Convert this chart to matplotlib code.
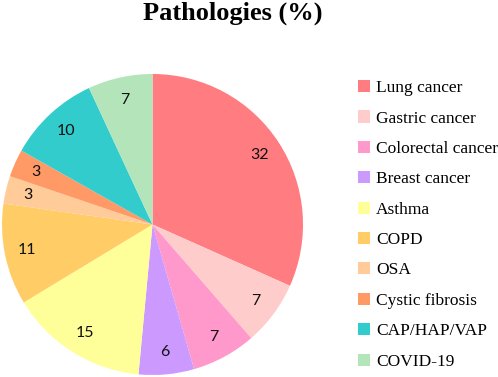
import matplotlib
matplotlib.use("Agg")
import matplotlib.pyplot as plt
from matplotlib.patches import Patch

# data
categories = ['Lung cancer', 'Gastric cancer', 'Colorectal cancer', 'Breast cancer',
              'Asthma', 'COPD', 'OSA', 'Cystic fibrosis', 'CAP/HAP/VAP', 'COVID-19']
values = [32, 7, 7, 6, 15, 11, 3, 3, 10, 7]
colors = ['#FF7C80', '#FFCCCC', '#FF99CC', '#CC99FF', '#FFFF99',
          '#FFCC66', '#FFCC99', '#FF9966', '#33CCCC', '#B4E5BA']

W, H = 498, 377
fig = plt.figure(figsize=(W / 100, H / 100), dpi=100)

# pie area (pixels from the reference): x 2..303, y 74..375 from top
ax = fig.add_axes([2 / W, 2 / H, 301 / W, 301 / H])
wedges, texts = ax.pie(values, colors=colors, startangle=90, counterclock=False,
                       labels=[str(v) for v in values], labeldistance=0.85,
                       wedgeprops=dict(linewidth=0),
                       textprops=dict(fontsize=11.5, family='Lato', color='#111111'))
for t in texts:
    t.set_ha('center')
    t.set_va('center')
ax.set_xlim(-1, 1)
ax.set_ylim(-1, 1)
ax.set_aspect('equal')
ax.axis('off')

fig.text(233 / W, 1 - 13 / H, 'Pathologies (%)', ha='center', va='center',
         fontsize=19, fontweight='bold', family='Liberation Serif')

handles = [Patch(facecolor=c, edgecolor='none') for c in colors]
leg = fig.legend(handles, categories, loc='upper left',
                 bbox_to_anchor=(358 / W, 1 - 80 / H), frameon=False,
                 prop=dict(family='Liberation Serif', size=12.5),
                 handlelength=0.7, handleheight=0.7, handletextpad=0.35,
                 labelspacing=0.82, borderaxespad=0, borderpad=0)

fig.savefig('out.png', dpi=100)
